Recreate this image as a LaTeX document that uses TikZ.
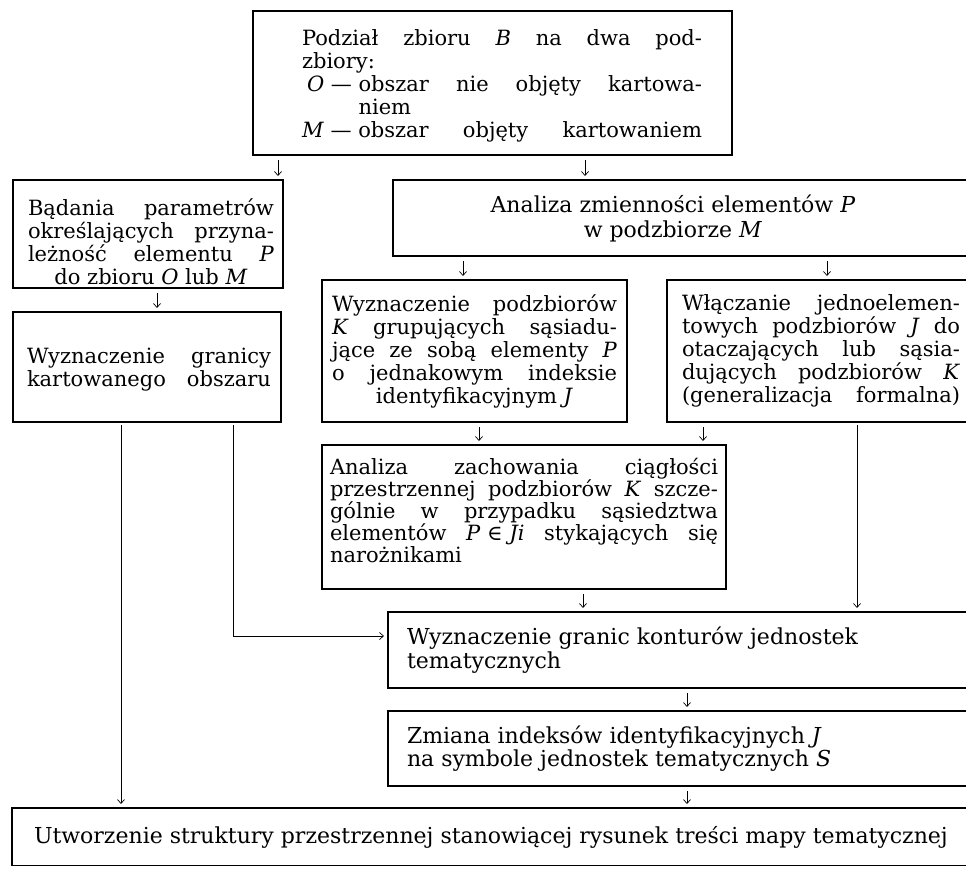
\documentclass[tikz,border=0pt]{standalone}
\usepackage{fontspec}
\setmainfont{DejaVu Serif}
\usetikzlibrary{arrows.meta,calc}
\newcommand\boxfont{\fontsize{21}{23}\selectfont\hyphenpenalty=10000\relax\tolerance=10000\relax}
\newcommand\fs[2]{\fontsize{#1}{#2}\selectfont}
\newcommand\jst{\leftskip=0pt\relax\rightskip=0pt\relax\parfillskip=0pt plus 1fil\relax\noindent}
\newcommand\ctr{\leftskip=0pt plus 1fil\relax\rightskip=0pt plus 1fil\relax\parfillskip=0pt\relax\noindent}
\newcommand\rgt{\leftskip=0pt\relax\rightskip=0pt plus 1fil\relax\parfillskip=0pt\relax\noindent}
\newcommand\midfill{\hspace*{0pt plus 1fil}}
% name, x1, y1, x2, y2, padding, text dx, text raise, text
\newcommand\mkbox[9]{%
  \pgfmathsetmacro\mkbw{#4-#2}%
  \pgfmathsetmacro\mkbh{#5-#3}%
  \pgfmathsetmacro\mktw{#4-#2-2*#6}%
  \node[box,anchor=north west,minimum width=\mkbw pt,minimum height=\mkbh pt] (#1) at (#2,#3)
    {\hbox{\kern#7pt\raisebox{#8pt}[\height][\depth]{\parbox{\mktw pt}{\boxfont #9}}\kern-#7pt}};}
\begin{document}
\begin{tikzpicture}[x=1pt,y=-1pt,
  box/.style={draw,line width=1.1pt,outer sep=0pt,inner sep=0pt},
  arr/.style={line width=0.7pt,-{Straight Barb[length=4pt,width=7pt]}},
  gap/.style={shorten <=5pt,shorten >=4pt},
  long/.style={shorten <=3pt,shorten >=4pt}]
\path[use as bounding box] (0,0) rectangle (966,868);
\clip (-2,-2) rectangle (966,865);

\mkbox{top}{253}{11}{732}{155}{39.5}{9.5}{-3}{\jst Podział zbioru \textit{B} na dwa pod-\linebreak
zbiory:\newline
\hspace*{5pt}\mbox{\textit{O} — }obszar nie objęty kartowa-\linebreak
\hspace*{5pt}\phantom{\textit{O} — }niem\newline
\mbox{\textit{M} — }obszar objęty kartowaniem\parfillskip=0pt\par}

\mkbox{bad}{13}{180}{283}{288}{12}{3}{-8}{\jst Bądania parametrów\linebreak
określających przyna-\linebreak
leżność elementu \textit{P}\linebreak
\midfill do zbioru \textit{O} lub \textit{M}}

\mkbox{anz}{393}{180}{975}{256}{15}{-11}{0}{\fs{22}{25}\ctr Analiza zmienności elementów \textit{P}\linebreak
w podzbiorze \textit{M}}

\mkbox{wgr}{13}{312}{281}{422}{12}{2}{-3}{\jst Wyznaczenie granicy\linebreak
kartowanego obszaru\parfillskip=0pt\par}

\mkbox{wpd}{322}{280}{627}{422}{10}{0}{0}{\jst Wyznaczenie podzbiorów\linebreak
\textit{K} grupujących sąsiadu-\linebreak
jące ze sobą elementy \textit{P}\linebreak
o jednakowym indeksie\linebreak
\midfill identyfikacyjnym \textit{J}}

\mkbox{wlc}{667}{280}{975}{422}{15}{0}{0}{\jst Włączanie jednoelemen-\linebreak
towych podzbiorów \textit{J} do\linebreak
otaczających lub sąsia-\linebreak
dujących podzbiorów \textit{K}\linebreak
(generalizacja formalna)\parfillskip=0pt\par}

\mkbox{azc}{322}{445}{726}{589}{8}{0}{7}{\fs{21}{22}\jst Analiza zachowania ciągłości\linebreak
przestrzennej podzbiorów \textit{K} szcze-\linebreak
gólnie w przypadku sąsiedztwa\linebreak
elementów \mbox{\textit{P} ∈ \textit{Ji}} stykających się\linebreak
narożnikami}

\mkbox{wkt}{388}{612}{1000}{688}{19}{0}{0}{\fs{22}{24}\rgt Wyznaczenie granic konturów jednostek\linebreak
tematycznych}

\mkbox{zmn}{388}{711}{1000}{786}{19}{0}{0}{\fs{22}{23}\rgt Zmiana indeksów identyfikacyjnych \textit{J}\linebreak
na symbole jednostek tematycznych \textit{S}}

\mkbox{utw}{12}{808}{1000}{866}{22}{0}{0}{\fs{22}{24}\rgt Utworzenie struktury przestrzennej stanowiącej rysunek treści mapy tematycznej}

% connectors
\draw[arr,gap] ($(top.south -| bad.north east)+(-5,0)$) -- ($(bad.north east)+(-5,0)$);
\draw[arr,gap] ($(top.south -| anz.north west)+(192,0)$) -- ($(anz.north west)+(192,0)$);
\draw[arr,gap] ($(bad.south west)+(144,0)$) -- ($(wgr.north west)+(144,0)$);
\draw[arr,gap] ($(anz.south -| wpd.north west)+(141,0)$) -- ($(wpd.north west)+(141,0)$);
\draw[arr,gap] ($(anz.south -| wlc.north west)+(160,0)$) -- ($(wlc.north west)+(160,0)$);
\draw[arr,gap] ($(wpd.south west)+(157,0)$) -- ($(azc.north west)+(157,0)$);
\draw[arr,gap] ($(wlc.south -| azc.north west)+(381,0)$) -- ($(azc.north west)+(381,0)$);
\draw[arr,long] ($(wlc.south west)+(190,0)$) -- ($(wkt.north -| wlc.south west)+(190,0)$);
\draw[arr,gap] ($(azc.south west)+(261,0)$) -- ($(wkt.north -| azc.south west)+(261,0)$);
\draw[arr,gap] ($(wkt.south west)+(299,0)$) -- ($(zmn.north west)+(299,0)$);
\draw[arr,gap] ($(zmn.south west)+(299,0)$) -- ($(utw.north -| zmn.south west)+(299,0)$);
\draw[arr,long] ($(wgr.south west)+(108,0)$) -- ($(utw.north -| wgr.south west)+(108,0)$);
\draw[arr,long] ($(wgr.south west)+(220,0)$) |- ($(wkt.north west)+(0,24)$);
\end{tikzpicture}
\end{document}
